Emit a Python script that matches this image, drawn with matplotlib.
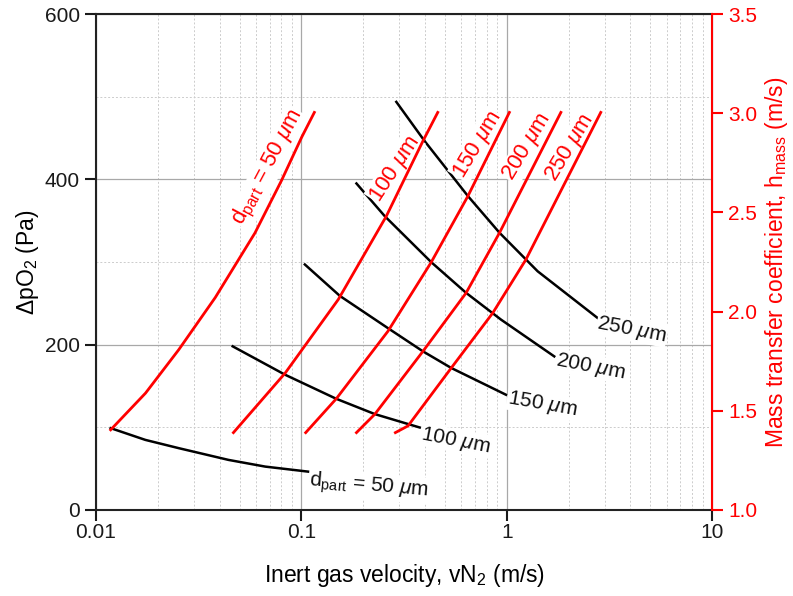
import numpy as np
import matplotlib.pyplot as plt
from matplotlib.ticker import FixedLocator, FixedFormatter, NullFormatter

plt.rcParams['font.family'] = ['Liberation Sans', 'DejaVu Sans']
plt.rcParams['mathtext.fontset'] = 'custom'
plt.rcParams['mathtext.rm'] = 'Liberation Sans'
plt.rcParams['mathtext.it'] = 'Liberation Sans:italic'
plt.rcParams['mathtext.bf'] = 'Liberation Sans:bold'

RED = '#ff0000'

# dpO2 (Pa) vs inert gas velocity (m/s), one curve per particle size
v_dp = {
    50: [0.0118, 0.0174, 0.0253, 0.0442, 0.0667, 0.108],
    100: [0.0463, 0.0834, 0.148, 0.228, 0.377],
    150: [0.104, 0.154, 0.264, 0.391, 0.537, 0.992],
    200: [0.1855, 0.2547, 0.429, 0.634, 0.938, 1.704],
    250: [0.290, 0.398, 0.647, 0.922, 1.414, 2.765],
}
dp = {
    50: [99, 84.8, 74.8, 60.6, 52.5, 46.4],
    100: [198, 163.6, 134.5, 116, 99.8],
    150: [297, 259, 220, 191.9, 171.8, 139.4],
    200: [395, 355.5, 299.8, 262.7, 230.3, 185.8],
    250: [493.7, 446.4, 379.8, 335.4, 288.8, 232.4],
}

# mass transfer coefficient (m/s) vs inert gas velocity (m/s)
v_h = {
    50: [0.01179, 0.01743, 0.0253, 0.0381, 0.0595, 0.0800, 0.1005, 0.1157],
    100: [0.0467, 0.0834, 0.1513, 0.2593, 0.391, 0.4615],
    150: [0.105, 0.148, 0.264, 0.429, 0.647, 1.030],
    200: [0.1855, 0.228, 0.391, 0.634, 0.922, 1.835],
    250: [0.287, 0.3307, 0.537, 0.855, 1.241, 2.870],
}
h = {
    50: [1.404, 1.589, 1.808, 2.071, 2.397, 2.660, 2.880, 3.004],
    100: [1.390, 1.690, 2.061, 2.481, 2.860, 3.004],
    150: [1.390, 1.561, 1.901, 2.249, 2.582, 3.004],
    200: [1.390, 1.483, 1.800, 2.094, 2.397, 3.004],
    250: [1.390, 1.424, 1.716, 1.993, 2.263, 3.004],
}

black_labels = ['d$_{\\mathrm{part}}$ = 50 $\\mu$m', '100 $\\mu$m', '150 $\\mu$m',
                '200 $\\mu$m', '250 $\\mu$m']
black_lab_x = [0.1094, 0.3836, 1.011, 1.736, 2.765]
black_lab_y = [35.2, 92.1, 135.4, 181.8, 226.3]
black_lab_rot = [-5, -11, -10, -11, -11]

red_labels = ['d$_{\\mathrm{part}}$ = 50 $\\mu$m', '100 $\\mu$m', '150 $\\mu$m',
              '200 $\\mu$m', '250 $\\mu$m']
red_lab_x = [0.0690, 0.2850, 0.7200, 1.260, 2.040]
red_lab_y = [2.725, 2.720, 2.840, 2.830, 2.825]
red_lab_rot = [62, 57, 59, 59, 59]

x_ticks = [0.01, 0.1, 1, 10]
x_ticklabels = ['0.01', '0.1', '1', '10']
h_ticks = [1.0, 1.5, 2.0, 2.5, 3.0, 3.5]

fig = plt.figure(figsize=(7.93, 5.96), dpi=100)
ax = fig.add_axes([0.121, 0.1443, 0.777, 0.8322])
ax.set_xscale('log')
ax2 = ax.twinx()

ax.set_xlim(0.01, 10)
ax.set_ylim(0, 600)
ax.set_yticks([0, 200, 400, 600])
ax.xaxis.set_major_locator(FixedLocator(x_ticks))
ax.xaxis.set_major_formatter(FixedFormatter(x_ticklabels))
ax.xaxis.set_minor_formatter(NullFormatter())
ax.yaxis.set_minor_locator(plt.MultipleLocator(100))
ax.set_axisbelow(True)
ax.grid(True, which='major', color='#a8a8a8', lw=0.9, ls='-')
ax.grid(True, which='minor', color='#cccccc', lw=0.7, ls=(0, (2, 2)))
ax.tick_params(which='minor', length=0)
ax.tick_params(which='major', direction='out', length=8, width=1.5,
               labelsize=15, colors='#1a1a1a')
ax.tick_params(axis='x', pad=1.5)
for s in ['left', 'bottom', 'top']:
    ax.spines[s].set_linewidth(1.5)
    ax.spines[s].set_color('#222222')

for k in dp:
    ax.plot(v_dp[k], dp[k], color='black', lw=1.8, zorder=3)
for t, x, y, r in zip(black_labels, black_lab_x, black_lab_y, black_lab_rot):
    ax.text(x, y, t, fontsize=15, rotation=r, rotation_mode='anchor',
            ha='left', va='center', color='#111111', zorder=4,
            bbox=dict(facecolor='white', edgecolor='none', pad=0.5))

ax.set_xlabel('Inert gas velocity, vN$_2$ (m/s)', fontsize=16.5, labelpad=14)
ax.set_ylabel('$\\Delta$pO$_2$ (Pa)', fontsize=16.5, labelpad=3)

ax2.set_ylim(1.0, 3.5)
ax2.set_yticks(h_ticks)
ax2.set_yticklabels([f'{t:.1f}' for t in h_ticks])
ax2.tick_params(axis='y', direction='out', length=8, width=1.5,
                labelsize=15, colors=RED)
ax2.spines['right'].set_color(RED)
ax2.spines['right'].set_linewidth(1.5)
for s in ['left', 'bottom', 'top']:
    ax2.spines[s].set_visible(False)

for k in h:
    ax2.plot(v_h[k], h[k], color=RED, lw=2.0, zorder=5)
for t, x, y, r in zip(red_labels, red_lab_x, red_lab_y, red_lab_rot):
    ax2.text(x, y, t, fontsize=16, rotation=r, rotation_mode='anchor',
             ha='center', va='center', color=RED, zorder=2,
             bbox=dict(facecolor='white', edgecolor='none', pad=0.5))

ax2.set_ylabel('Mass transfer coefficient, h$_{\\mathrm{mass}}$ (m/s)',
               fontsize=16.5, color=RED, labelpad=4)

fig.savefig('out.png', dpi=100)
